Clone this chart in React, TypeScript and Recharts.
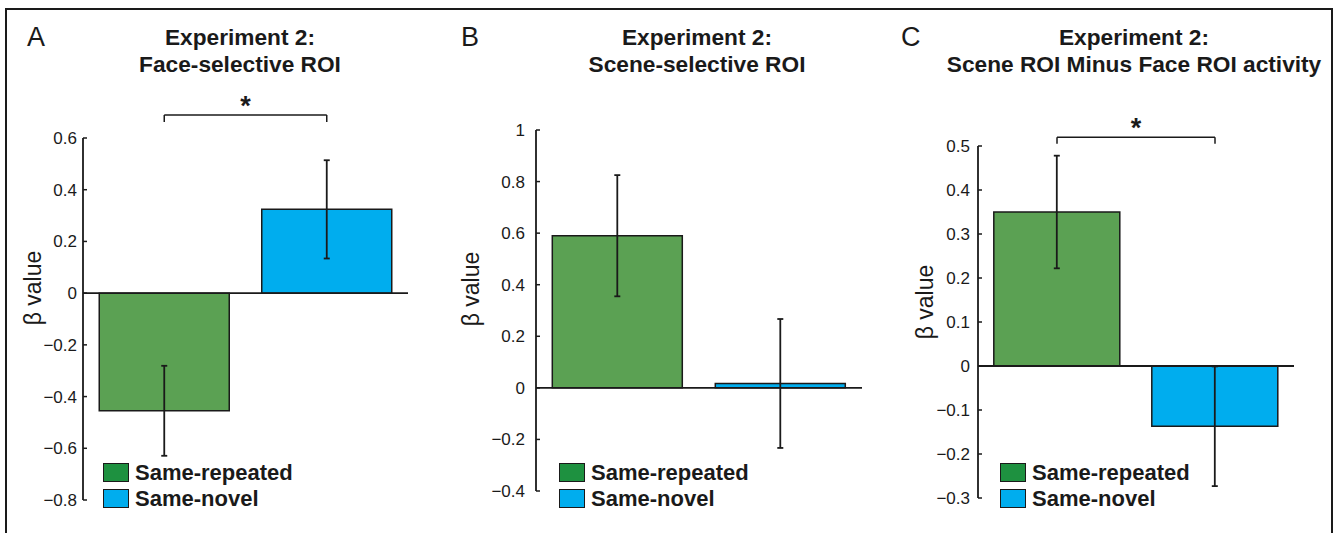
import React from "react";
import {
  Bar,
  BarChart,
  Cell,
  ErrorBar,
  Legend,
  ReferenceLine,
  XAxis,
  YAxis,
} from "recharts";

const FONT = '"Liberation Sans", Arial, Helvetica, sans-serif';
const INK = "#1a1a1a";

const CONDITIONS = ["Same-repeated", "Same-novel"];
const BAR_COLORS = ["#5ba153", "#00adee"]; // muted green, cyan
const KEY_COLORS = ["#1e9140", "#00adee"]; // legend green is a bit darker

// A: face-selective ROI
const FACE_BETA = [-0.455, 0.324];
const FACE_SEM = [0.174, 0.19];
const FACE_TICKS = [0.6, 0.4, 0.2, 0, -0.2, -0.4, -0.6, -0.8];
const FACE_SIG = 0.689;

// B: scene-selective ROI
const SCENE_BETA = [0.59, 0.017];
const SCENE_SEM = [0.235, 0.25];
const SCENE_TICKS = [1, 0.8, 0.6, 0.4, 0.2, 0, -0.2, -0.4];

// C: scene minus face
const DIFF_BETA = [0.35, -0.137];
const DIFF_SEM = [0.128, 0.136];
const DIFF_TICKS = [0.5, 0.4, 0.3, 0.2, 0.1, 0, -0.1, -0.2, -0.3];
const DIFF_SIG = 0.52;

const rows = (beta: number[], sem: number[]) =>
  CONDITIONS.map((name, i) => ({ name, beta: beta[i], sem: sem[i] }));

const fmt = (v: number) => (v < 0 ? "\u2212" + String(-v) : String(v));

function KeyBox() {
  return (
    <div
      style={{
        fontFamily: FONT,
        fontWeight: 700,
        fontSize: 22,
        color: INK,
        lineHeight: "26px",
        whiteSpace: "nowrap",
      }}
    >
      {CONDITIONS.map((c, i) => (
        <div key={c} style={{ display: "flex", alignItems: "center", height: 26 }}>
          <span
            style={{
              display: "inline-block",
              width: 26,
              height: 19,
              boxSizing: "border-box",
              border: `1.5px solid ${INK}`,
              background: KEY_COLORS[i],
              marginRight: 6,
            }}
          />
          {c}
        </div>
      ))}
    </div>
  );
}

type PanelProps = {
  letter: string;
  title: string[];
  beta: number[];
  sem: number[];
  ticks: number[];
  sig?: number;
  sigDrop?: number;
  left: number;
  width: number;
  margin: { top: number; right: number; bottom: number; left: number };
  tickMargin: number;
  titleX: number;
  labelPos: [number, number];
  keyLeft: number;
};

function Panel(p: PanelProps) {
  const data = rows(p.beta, p.sem);
  const lo = p.ticks[p.ticks.length - 1];
  const hi = p.ticks[0];
  const [a, b] = CONDITIONS;
  return (
    <div style={{ position: "absolute", left: p.left, top: 0, width: p.width, height: 533 }}>
      <BarChart
        width={p.width}
        height={533}
        data={data}
        margin={p.margin}
        barCategoryGap="10%"
      >
        <XAxis dataKey="name" hide />
        <YAxis
          type="number"
          domain={[lo, hi]}
          ticks={p.ticks}
          interval={0}
          width={60}
          tickFormatter={fmt}
          tickSize={-4}
          tickMargin={p.tickMargin}
          axisLine={{ stroke: INK, strokeWidth: 1.8 }}
          tickLine={{ stroke: INK, strokeWidth: 1.5 }}
          tick={{ fill: INK, fontSize: 17, fontFamily: FONT }}
        />
        <ReferenceLine y={0} stroke={INK} strokeWidth={1.8} />
        <Bar dataKey="beta" stroke={INK} strokeWidth={1.5} isAnimationActive={false}>
          {data.map((d, i) => (
            <Cell key={d.name} fill={BAR_COLORS[i]} />
          ))}
          <ErrorBar
            dataKey="sem"
            width={3}
            stroke={INK}
            strokeWidth={1.8}
            isAnimationActive={false}
          />
        </Bar>
        {p.sig !== undefined && (
          <ReferenceLine
            segment={[
              { x: a, y: p.sig },
              { x: b, y: p.sig },
            ]}
            ifOverflow="visible"
            stroke={INK}
            strokeWidth={1.5}
            label={{
              value: "*",
              position: "top",
              offset: 0,
              fontSize: 27,
              fontWeight: 700,
              fill: INK,
              fontFamily: FONT,
            }}
          />
        )}
        {p.sig !== undefined &&
          [a, b].map((c) => (
            <ReferenceLine
              key={c}
              segment={[
                { x: c, y: p.sig as number },
                { x: c, y: (p.sig as number) - (p.sigDrop ?? 0.02) },
              ]}
              ifOverflow="visible"
              stroke={INK}
              strokeWidth={1.5}
            />
          ))}
        <Legend
          layout="horizontal"
          align="center"
          verticalAlign="middle"
          content={() => <KeyBox />}
          wrapperStyle={{ left: p.keyLeft, top: 459.5, width: "auto", height: "auto" }}
        />
      </BarChart>

      <div
        style={{
          position: "absolute",
          left: 21 + (p.letter === "A" ? 6 : 0),
          top: 24,
          fontFamily: FONT,
          fontSize: 27,
          lineHeight: "27px",
          color: INK,
        }}
      >
        {p.letter}
      </div>
      <div
        style={{
          position: "absolute",
          left: p.titleX - 250,
          width: 500,
          top: 24,
          textAlign: "center",
          fontFamily: FONT,
          fontWeight: 700,
          fontSize: 22.7,
          lineHeight: "27px",
          color: INK,
          whiteSpace: "nowrap",
        }}
      >
        {p.title.map((t) => (
          <div key={t}>{t}</div>
        ))}
      </div>
      <div
        style={{
          position: "absolute",
          left: p.labelPos[0],
          top: p.labelPos[1],
          transform: "translate(-50%, -50%) rotate(-90deg)",
          fontFamily: FONT,
          fontSize: 23,
          color: INK,
          whiteSpace: "nowrap",
        }}
      >
        β value
      </div>
    </div>
  );
}

export default function App() {
  return (
    <div
      style={{
        position: "absolute",
        left: 0,
        top: 0,
        width: 1333,
        height: 533,
        overflow: "hidden",
        background: "#fff",
      }}
    >
      <div
        style={{
          position: "absolute",
          left: 5,
          top: 8,
          width: 1328,
          height: 540,
          boxSizing: "border-box",
          borderTop: `2px solid ${INK}`,
          borderLeft: `2px solid ${INK}`,
          borderRight: `2px solid ${INK}`,
        }}
      />
      <Panel
        letter="A"
        title={["Experiment 2:", "Face-selective ROI"]}
        beta={FACE_BETA}
        sem={FACE_SEM}
        ticks={FACE_TICKS}
        sig={FACE_SIG}
        sigDrop={0.027}
        left={0}
        width={440}
        margin={{ top: 138, right: 32, bottom: 33, left: 23 }}
        tickMargin={10}
        titleX={240}
        labelPos={[33, 288]}
        keyLeft={103}
      />
      <Panel
        letter="B"
        title={["Experiment 2:", "Scene-selective ROI"]}
        beta={SCENE_BETA}
        sem={SCENE_SEM}
        ticks={SCENE_TICKS}
        left={440}
        width={440}
        margin={{ top: 130, right: 18, bottom: 42, left: 36 }}
        tickMargin={15}
        titleX={257}
        labelPos={[31, 289]}
        keyLeft={119}
      />
      <Panel
        letter="C"
        title={["Experiment 2:", "Scene ROI Minus Face ROI activity"]}
        beta={DIFF_BETA}
        sem={DIFF_SEM}
        ticks={DIFF_TICKS}
        sig={DIFF_SIG}
        sigDrop={0.015}
        left={880}
        width={453}
        margin={{ top: 146, right: 39, bottom: 35, left: 38 }}
        tickMargin={12}
        titleX={254}
        labelPos={[45, 302]}
        keyLeft={120}
      />
    </div>
  );
}
